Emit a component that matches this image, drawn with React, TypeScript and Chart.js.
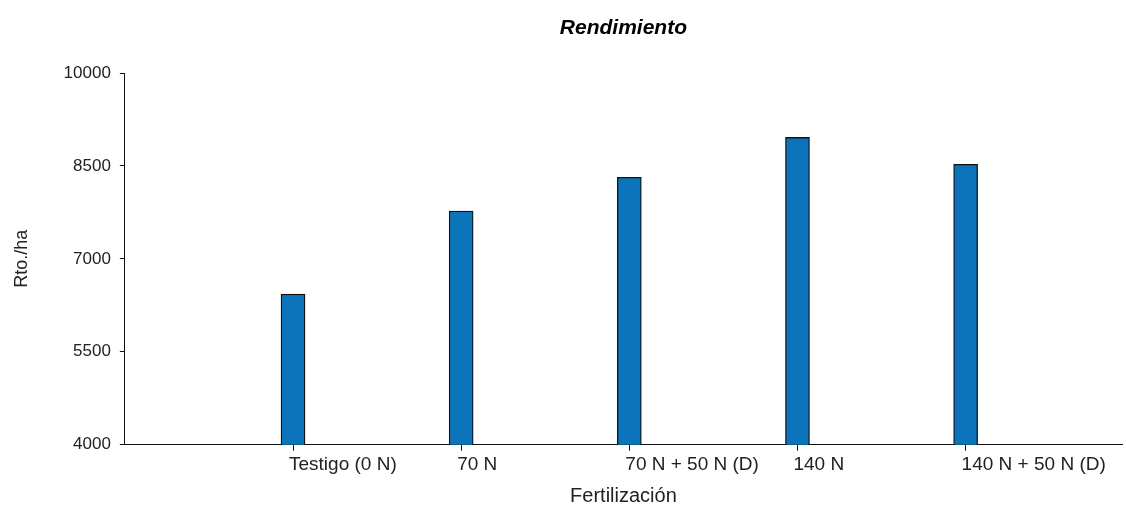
import React, { useEffect, useRef } from "react";
import { Chart, registerables } from "chart.js";

Chart.register(...registerables);

const categories: string[] = [
  "Testigo (0 N)",
  "70 N",
  "70 N + 50 N (D)",
  "140 N",
  "140 N + 50 N (D)",
];
const positions: number[] = [1, 2, 3, 4, 5];
const rendimiento: number[] = [6430, 7770, 8315, 8960, 8525];
const yTicks: number[] = [4000, 5500, 7000, 8500, 10000];

const FONT = "'Liberation Sans', Arial, sans-serif";

export default function App() {
  const ref = useRef<HTMLCanvasElement | null>(null);

  useEffect(() => {
    document.body.style.margin = "0";
    const canvas = ref.current;
    if (!canvas) return;
    const chart = new Chart(canvas, {
      type: "bar",
      data: {
        datasets: [
          {
            label: "Rendimiento",
            data: positions.map((p, i) => ({ x: p, y: rendimiento[i] })),
            backgroundColor: "#0b74bb",
            borderColor: "#111111",
            borderWidth: 1.3,
            borderSkipped: "bottom",
            barThickness: 24,
          },
        ],
      },
      options: {
        responsive: false,
        animation: false,
        devicePixelRatio: 1,
        layout: { padding: { left: 0, right: 4, top: 0, bottom: 0 } },
        plugins: {
          legend: { display: false },
          tooltip: { enabled: false },
          title: {
            display: true,
            fullSize: false,
            text: "Rendimiento",
            color: "#000",
            font: { family: FONT, size: 21, weight: "bold", style: "italic" },
            padding: { top: 15.4, bottom: 32.4 },
          },
        },
        scales: {
          x: {
            type: "linear",
            min: 0,
            max: 5.93,
            offset: false,
            afterBuildTicks: (axis: any) => {
              axis.ticks = positions.map((v) => ({ value: v }));
            },
            ticks: {
              autoSkip: false,
              maxRotation: 0,
              minRotation: 0,
              align: "start",
              labelOffset: -4,
              padding: 3,
              color: "#222",
              font: { family: FONT, size: 19 },
              callback: (v: any) => categories[Number(v) - 1] ?? "",
            },
            grid: {
              offset: false,
              drawOnChartArea: false,
              drawTicks: true,
              tickLength: 6,
              color: "#111",
            },
            border: { display: true, color: "#111", width: 1 },
            title: {
              display: true,
              text: "Fertilización",
              color: "#222",
              font: { family: FONT, size: 20 },
              padding: { top: 4.5, bottom: 0 },
            },
          },
          y: {
            min: 4000,
            max: 10000,
            afterBuildTicks: (axis: any) => {
              axis.ticks = yTicks.map((v) => ({ value: v }));
            },
            ticks: {
              padding: 9,
              color: "#222",
              font: { family: FONT, size: 17 },
              callback: (v: any) => String(v),
            },
            grid: {
              drawOnChartArea: false,
              drawTicks: true,
              tickLength: 5,
              color: "#111",
            },
            border: { display: true, color: "#111", width: 1 },
            title: {
              display: true,
              text: "Rto./ha",
              color: "#222",
              font: { family: FONT, size: 18 },
              padding: { top: 11, bottom: 22 },
            },
          },
        },
      },
    } as any);
    return () => chart.destroy();
  }, []);

  return (
    <div style={{ width: 1126, height: 508, background: "#fff" }}>
      <canvas ref={ref} width={1126} height={508} style={{ display: "block" }} />
    </div>
  );
}
